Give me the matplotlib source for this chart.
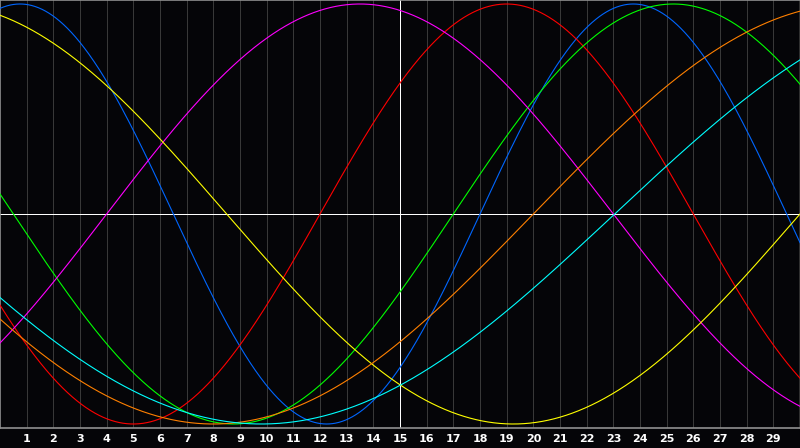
import numpy as np
import matplotlib
matplotlib.use("Agg")
import matplotlib.pyplot as plt

# biorhythm cycles: period (days) and day of the peak
cycles = ["physical", "emotional", "intellectual", "intuitive", "aesthetic", "awareness", "spiritual"]
periods = [23, 28, 33, 38, 43, 48, 53]
peak_days = [0.75, 19.0, 25.25, 13.5, -2.25, 32.0, 36.3]
colors = ["#0066ff", "#ff0000", "#00ff00", "#ff00ff", "#ffff00", "#ff8000", "#00ffff"]

days = list(range(1, 30))
today = 15
n_days = 30

fig = plt.figure(figsize=(8, 4.48), dpi=100, facecolor="#050508")
ax = fig.add_axes([0, 20 / 448, 1, 428 / 448])
ax.set_facecolor("#050508")

for d in days:
    ax.axvline(d, color="#383838", lw=0.5, antialiased=False, zorder=1)
ax.axhline(0, color="white", lw=0.5, antialiased=False, zorder=2)
ax.axvline(today, color="white", lw=0.5, antialiased=False, zorder=2)

t = np.linspace(0, n_days, 1601)
for name, p, pk, c in zip(cycles, periods, peak_days, colors):
    ax.plot(t, np.cos(2 * np.pi * (t - pk) / p), color=c, lw=0.8, label=name, zorder=3)

ax.set_xlim(0, n_days)
ax.set_ylim(-214 / 210, 214 / 210)
ax.set_yticks([])
ax.set_xticks(days)
ax.set_xticklabels([str(d) for d in days], color="white", fontsize=8, fontweight="bold")
ax.tick_params(axis="x", length=0, pad=4)
for side in ["left", "top", "right", "bottom"]:
    ax.spines[side].set_color("#909090")
    ax.spines[side].set_linewidth(1.2)
ax.spines["right"].set_color("#383838")

fig.savefig("out.png", dpi=100, facecolor=fig.get_facecolor())
